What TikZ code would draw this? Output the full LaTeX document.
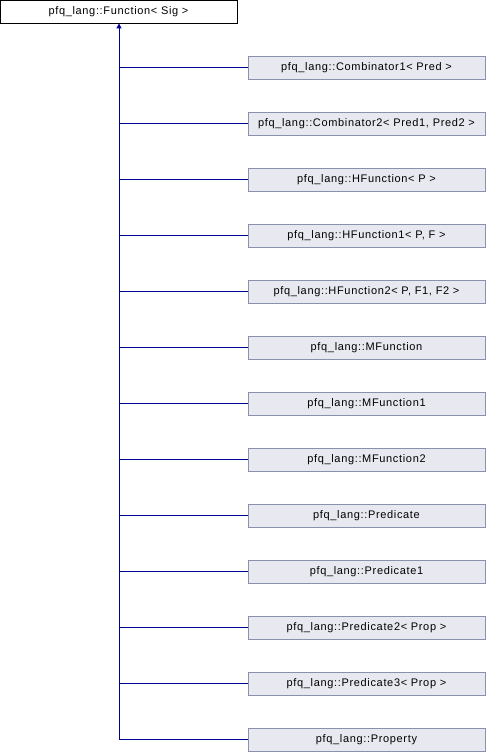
\documentclass[tikz,border=0pt]{standalone}
\usepackage{fontspec}
\setmainfont{Liberation Sans}[LetterSpace=6]
\usetikzlibrary{arrows.meta}
\definecolor{edgeblue}{RGB}{0,0,150}
\definecolor{boxfill}{RGB}{232,233,240}
\definecolor{boxline}{RGB}{136,146,170}
\tikzset{
  base/.style={draw=black, fill=white, minimum width=237pt, minimum height=23pt, inner sep=0pt, font=\fontsize{11}{13}\selectfont, line width=1pt},
  child/.style={draw=boxline, fill=boxfill, minimum width=237pt, minimum height=23pt, inner sep=0pt, font=\fontsize{11}{13}\selectfont, line width=1pt},
  inh/.style={draw=edgeblue, line width=1pt}
}
\begin{document}
\begin{tikzpicture}[x=1pt,y=-1pt]
\useasboundingbox (0,0) rectangle (486,752);
\node[base] (f) at (118.5,11.7) {pfq\_lang::Function< Sig >};
\foreach \i/\t in {1/{pfq\_lang::Combinator1< Pred >},
                   2/{pfq\_lang::Combinator2< Pred1, Pred2 >},
                   3/{pfq\_lang::HFunction< P >},
                   4/{pfq\_lang::HFunction1< P, F >},
                   5/{pfq\_lang::HFunction2< P, F1, F2 >},
                   6/{pfq\_lang::MFunction},
                   7/{pfq\_lang::MFunction1},
                   8/{pfq\_lang::MFunction2},
                   9/{pfq\_lang::Predicate},
                   10/{pfq\_lang::Predicate1},
                   11/{pfq\_lang::Predicate2< Prop >},
                   12/{pfq\_lang::Predicate3< Prop >},
                   13/{pfq\_lang::Property}}{
  \node[child] (c\i) at (366.5,{67.7+56*(\i-1)}) {\t};
  \coordinate (j\i) at (119,{67.7+56*(\i-1)});
  \draw[inh] (j\i) -- (c\i.west);
}
\coordinate (tip) at (119,23.4);
\draw[inh, -{Triangle[length=5pt,width=5pt,fill=edgeblue]}] (j13) -- (tip);
\end{tikzpicture}
\end{document}
